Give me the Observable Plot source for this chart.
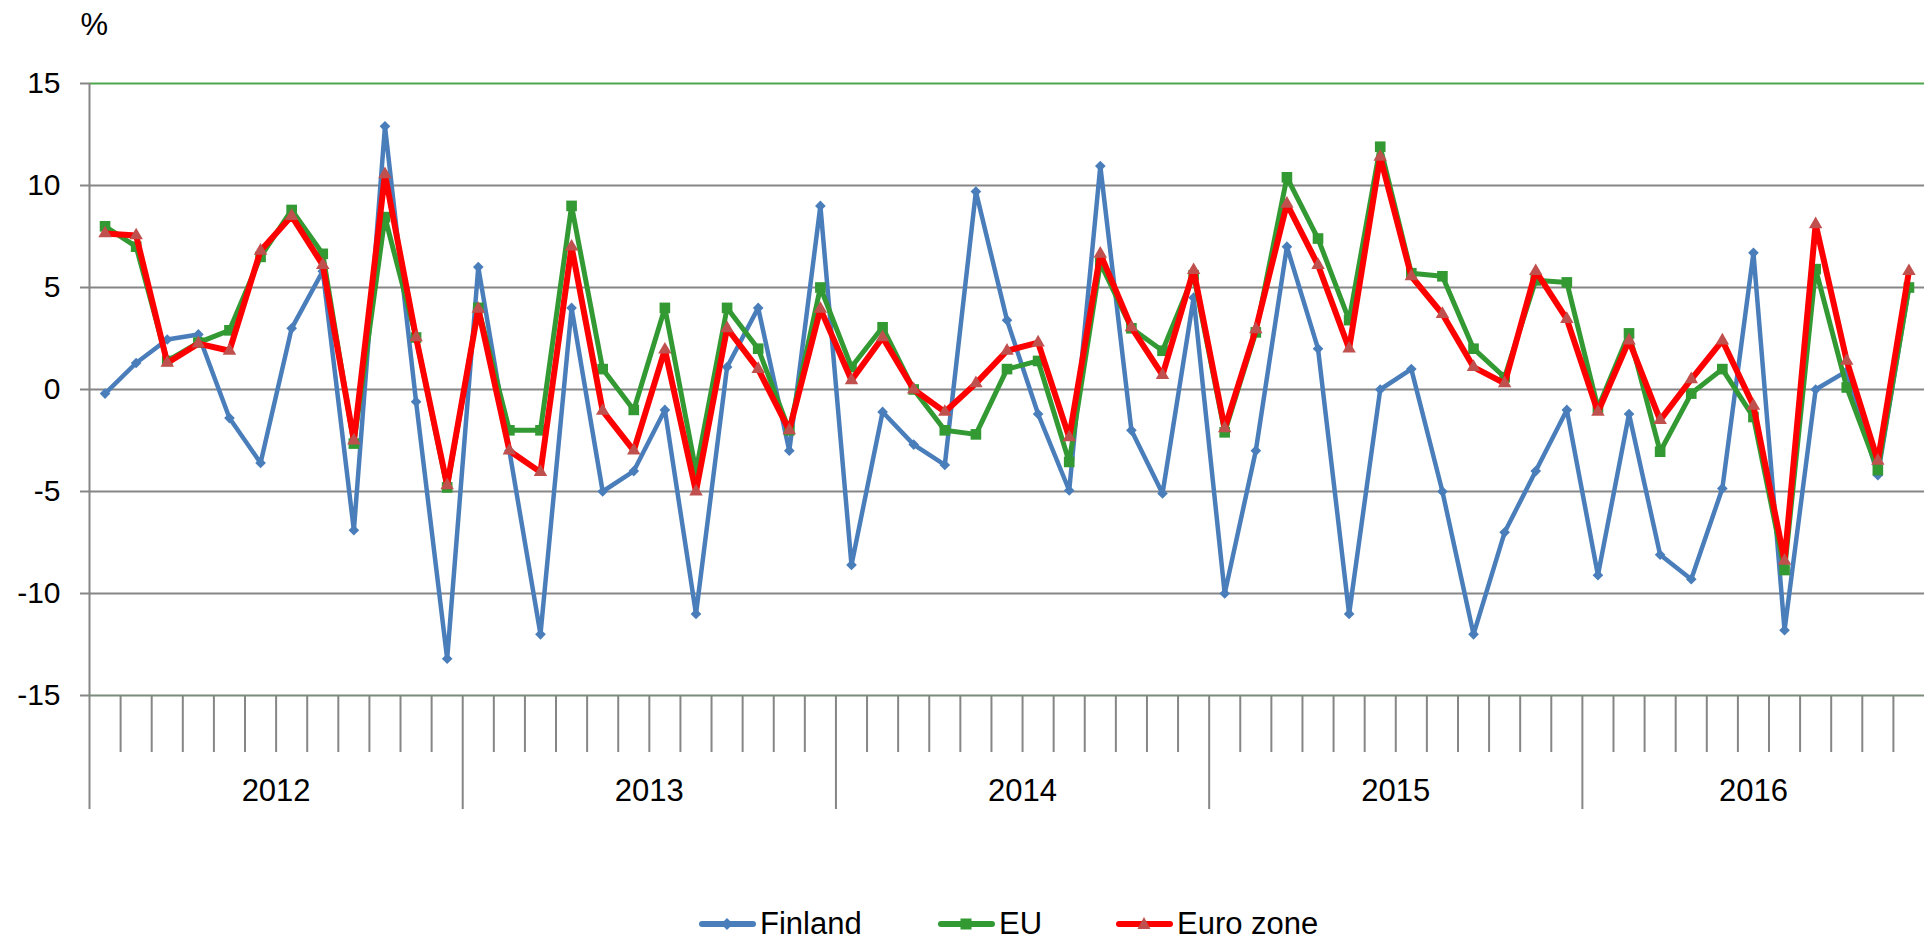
<!DOCTYPE html>
<html>
<head>
<meta charset="utf-8">
<script src="https://cdn.jsdelivr.net/npm/d3@7"></script>
<script src="https://cdn.jsdelivr.net/npm/@observablehq/plot@0.6"></script>
<style>
  html, body { margin: 0; padding: 0; background: #fff; }
  #wrap { position: relative; width: 1924px; height: 940px; overflow: hidden; font-family: "Liberation Sans", Arial, sans-serif; }
  #chart { position: absolute; left: 0; top: 0; }
  .leg { position: absolute; top: 906px; display: flex; align-items: center; font-size: 31px; color: #000; height: 36px; white-space: nowrap; }
  .leg svg { margin-right: 4px; }
</style>
</head>
<body>
<div id="wrap">
  <div id="chart"></div>
</div>
<script>
// ---- Data (monthly change, %) Jan 2012 – Nov 2016 ----
const years = ["2012", "2013", "2014", "2015", "2016"];
const monthsPerYear = [12, 12, 12, 12, 11];
const yTicks = [-15, -10, -5, 0, 5, 10, 15];

const finland = [
  -0.2, 1.3, 2.45, 2.7, -1.4, -3.6, 3.0, 5.8, -6.9, 12.9, -0.6, -13.2,
  6.0, -3.0, -12.0, 4.0, -5.0, -4.0, -1.0, -11.0, 1.1, 4.0, -3.0, 9.0,
  -8.6, -1.1, -2.7, -3.7, 9.7, 3.4, -1.2, -4.95, 10.95, -2.0, -5.1, 4.5,
  -10.0, -3.0, 7.0, 2.0, -11.0, 0.0, 1.0, -5.0, -12.0, -7.0, -4.0, -1.0,
  -9.1, -1.2, -8.1, -9.3, -4.85, 6.7, -11.8, 0.0, 0.9, -4.2, 5.0
];
const eu = [
  8.0, 7.0, 1.4, 2.3, 2.9, 6.5, 8.8, 6.65, -2.65, 8.45, 2.55, -4.8,
  4.0, -2.0, -2.0, 9.0, 1.0, -1.0, 4.0, -4.0, 4.0, 2.0, -2.0, 5.0,
  1.1, 3.05, 0.0, -2.0, -2.2, 1.0, 1.4, -3.55, 6.2, 3.0, 1.9, 5.6,
  -2.1, 2.8, 10.4, 7.4, 3.4, 11.9, 5.7, 5.55, 2.0, 0.6, 5.35, 5.25,
  -0.9, 2.75, -3.05, -0.2, 1.0, -1.35, -8.85, 5.9, 0.1, -3.95, 5.0
];
const euroZone = [
  7.65, 7.55, 1.3, 2.25, 1.9, 6.8, 8.5, 6.1, -2.5, 10.55, 2.55, -4.7,
  3.95, -3.0, -4.05, 7.0, -1.05, -3.0, 1.95, -5.0, 3.0, 1.0, -2.0, 3.95,
  0.45, 2.55, 0.0, -1.1, 0.3, 1.9, 2.3, -2.35, 6.65, 3.05, 0.7, 5.85,
  -1.9, 2.95, 9.1, 6.1, 2.0, 11.4, 5.55, 3.7, 1.1, 0.3, 5.8, 3.45,
  -1.1, 2.4, -1.5, 0.5, 2.4, -0.8, -8.4, 8.1, 1.4, -3.5, 5.8
];

// ---- Derived tables ----
const nMonths = d3.sum(monthsPerYear);
const yearStarts = monthsPerYear.map((_, k) => d3.sum(monthsPerYear.slice(0, k)));
const yearCenters = monthsPerYear.map((m, k) => yearStarts[k] + m / 2);
const minorTicks = d3.range(1, nMonths).filter(t => !yearStarts.includes(t));
const toRows = arr => arr.map((v, i) => ({x: i + 0.5, v}));
const fin = toRows(finland), euRows = toRows(eu), ezRows = toRows(euroZone);

const colBlue = "#4A7EBB", colGreen = "#339933", colRed = "#FF0000", colTri = "#C0504D";

const chart = Plot.plot({
  width: 1924,
  height: 860,
  marginLeft: 89,
  marginRight: 0,
  marginTop: 83,
  marginBottom: 165,
  style: {fontFamily: "'Liberation Sans', Arial, sans-serif", fontSize: "30px", color: "#000", background: "#fff"},
  x: {domain: [0, nMonths]},
  y: {domain: [-15, 15]},
  marks: [
    Plot.ruleY(yTicks.filter(t => t > -15 && t < 15), {stroke: "#868686", strokeWidth: 2}),
    Plot.ruleY([15], {stroke: "#4ea64e", strokeWidth: 2}),
    Plot.axisY({ticks: yTicks, tickSize: 9, tickPadding: 20, stroke: "#868686", strokeWidth: 2,
                tickFormat: d => String(d), label: null, fontSize: 30}),
    Plot.axisX({ticks: minorTicks, tickSize: 57, tickFormat: () => null, stroke: "#868686", strokeWidth: 2, label: null}),
    Plot.axisX({ticks: yearStarts, tickSize: 114, tickFormat: () => null, stroke: "#868686", strokeWidth: 2, label: null}),
    Plot.axisX({ticks: yearCenters, tickSize: 0, tickPadding: 83, label: null, fontSize: 31,
                tickFormat: d => years[yearCenters.indexOf(d)]}),
    Plot.ruleX([0], {stroke: "#868686", strokeWidth: 2}),
    Plot.ruleY([-15], {stroke: "#7b8c7b", strokeWidth: 2}),
    Plot.text(["%"], {frameAnchor: "top-left", dx: -9, dy: -71, textAnchor: "start", fontSize: 31}),
    Plot.line(fin, {x: "x", y: "v", stroke: colBlue, strokeWidth: 4.5, strokeLinejoin: "round"}),
    Plot.dot(fin, {x: "x", y: "v", symbol: "diamond2", r: 4.8, fill: colBlue, stroke: null}),
    Plot.line(euRows, {x: "x", y: "v", stroke: colGreen, strokeWidth: 5, strokeLinejoin: "round"}),
    Plot.dot(euRows, {x: "x", y: "v", symbol: "square", r: 6, fill: colGreen, stroke: null}),
    Plot.line(ezRows, {x: "x", y: "v", stroke: colRed, strokeWidth: 6, strokeLinejoin: "round"}),
    Plot.dot(ezRows, {x: "x", y: "v", symbol: "triangle", r: 5, fill: colTri, stroke: null})
  ]
});
document.getElementById("chart").appendChild(chart);

// ---- Legend (below the SVG) ----
const legendItems = [
  {name: "Finland", color: colBlue, sym: "diamond", left: 699},
  {name: "EU", color: colGreen, sym: "square", left: 938},
  {name: "Euro zone", color: colRed, sym: "triangle", left: 1116}
];
const wrap = document.getElementById("wrap");
for (const it of legendItems) {
  const div = document.createElement("div");
  div.className = "leg";
  div.style.left = it.left + "px";
  let marker = "";
  if (it.sym === "diamond") marker = `<path d="M28,12 L34,18 L28,24 L22,18 Z" fill="${it.color}"/>`;
  if (it.sym === "square") marker = `<rect x="22.5" y="12.5" width="11" height="11" fill="${it.color}"/>`;
  if (it.sym === "triangle") marker = `<path d="M28,11 L34.5,23 L21.5,23 Z" fill="${colTri}"/>`;
  div.innerHTML = `<svg width="57" height="36" viewBox="0 0 57 36"><line x1="3" y1="18" x2="54" y2="18" stroke="${it.color}" stroke-width="6" stroke-linecap="round"/>${marker}</svg><span>${it.name}</span>`;
  wrap.appendChild(div);
}
</script>
</body>
</html>
